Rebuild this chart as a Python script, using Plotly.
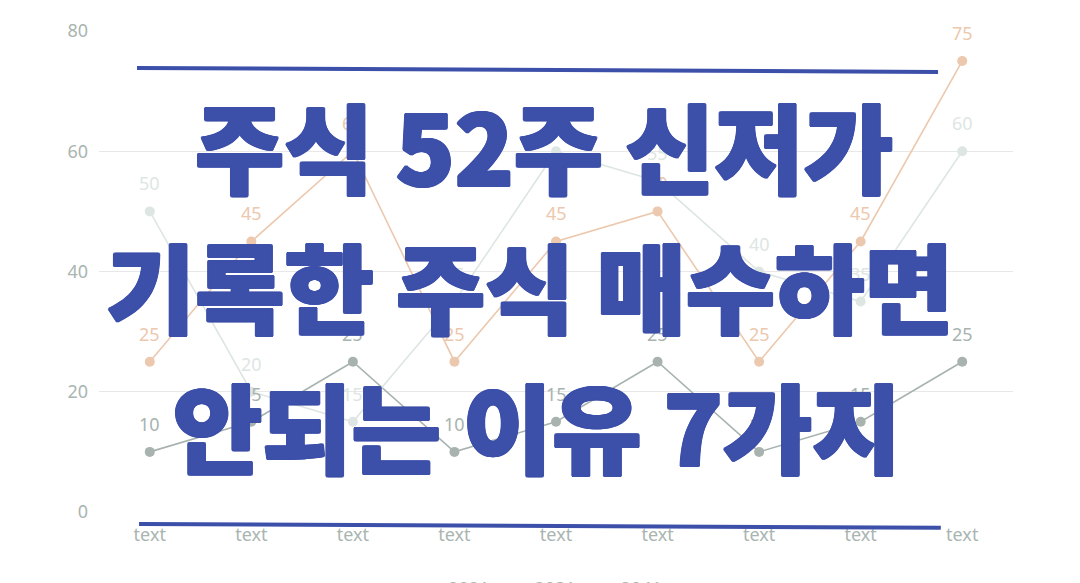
import plotly.graph_objects as go

# x categories and series values
categories = ["text"] * 9
series_names = ["2021", "2031", "2041"]
values_2021 = [10, 15, 25, 10, 15, 25, 10, 15, 25]
values_2031 = [25, 45, 60, 25, 45, 50, 25, 45, 75]
values_2041 = [50, 20, 15, 35, 60, 55, 40, 35, 60]
y_ticks = [0, 20, 40, 60, 80]

title_lines = ["주식 52주 신저가", "기록한 주식 매수하면", "안되는 이유 7가지"]

colors = ["#a8b3af", "#ecc8ae", "#dde6e3"]
blue = "#3c4fa9"
tick_color = "#a9b5b0"

x_idx = list(range(len(categories)))

fig = go.Figure()
for name, vals, c in zip(series_names, [values_2021, values_2031, values_2041], colors):
    fig.add_trace(go.Scatter(
        x=x_idx, y=vals, name=name,
        mode="lines+markers",
        line=dict(color=c, width=1.6),
        marker=dict(color=c, size=10),
    ))
    # value labels sit a bit higher than plotly's own text placement
    for xi, v in zip(x_idx, vals):
        fig.add_annotation(
            x=xi, y=v, text=str(v), showarrow=False, yshift=28,
            font=dict(family="Noto Sans", size=18, color=c),
        )

fig.update_xaxes(
    tickmode="array", tickvals=x_idx, ticktext=categories,
    range=[-0.5, len(categories) - 0.5],
    showgrid=False, zeroline=False, showline=False,
    tickfont=dict(family="Noto Sans", size=18, color=tick_color),
    ticklabelstandoff=10,
)
fig.update_yaxes(
    range=[0, 80], tickvals=y_ticks,
    showgrid=True, gridcolor="#e8e8e8", gridwidth=1,
    zeroline=False, showline=False,
    tickfont=dict(family="Noto Sans", size=18, color=tick_color),
    ticklabelstandoff=10,
)

# big overlay title, one annotation per line; shadow thickens the strokes
offsets = [(1.5, 0), (-1.5, 0), (0, 1), (0, -1), (1, 1), (-1, -1), (1, -1), (-1, 1)]
heavy = ", ".join(f"{dx}px {dy}px 0 {blue}" for dx, dy in offsets)
title_pos = [(0.487, 0.766), (0.4716, 0.475), (0.4797, 0.184)]
for line, (tx, ty) in zip(title_lines, title_pos):
    fig.add_annotation(
        text=line, xref="paper", yref="paper", x=tx, y=ty,
        xanchor="center", yanchor="middle", showarrow=False,
        font=dict(family="Noto Sans CJK KR Black, Noto Sans CJK KR", size=97,
                  color=blue, weight=900, shadow=heavy),
    )

# blue rules above and below the title
fig.add_shape(type="line", xref="paper", yref="paper",
              x0=0.0416, y0=0.923, x1=0.918, y1=0.915,
              line=dict(color=blue, width=4))
fig.add_shape(type="line", xref="paper", yref="paper",
              x0=0.0438, y0=-0.025, x1=0.921, y1=-0.033,
              line=dict(color=blue, width=4))

fig.update_layout(
    width=1080, height=583,
    margin=dict(l=91, r=75, t=23, b=79, autoexpand=False),
    plot_bgcolor="white", paper_bgcolor="white",
    showlegend=True,
    legend=dict(orientation="h", x=0.48, xanchor="center", y=-0.12, yanchor="top",
                font=dict(family="Noto Sans", size=18, color=tick_color)),
)

fig.write_html("out.html")
